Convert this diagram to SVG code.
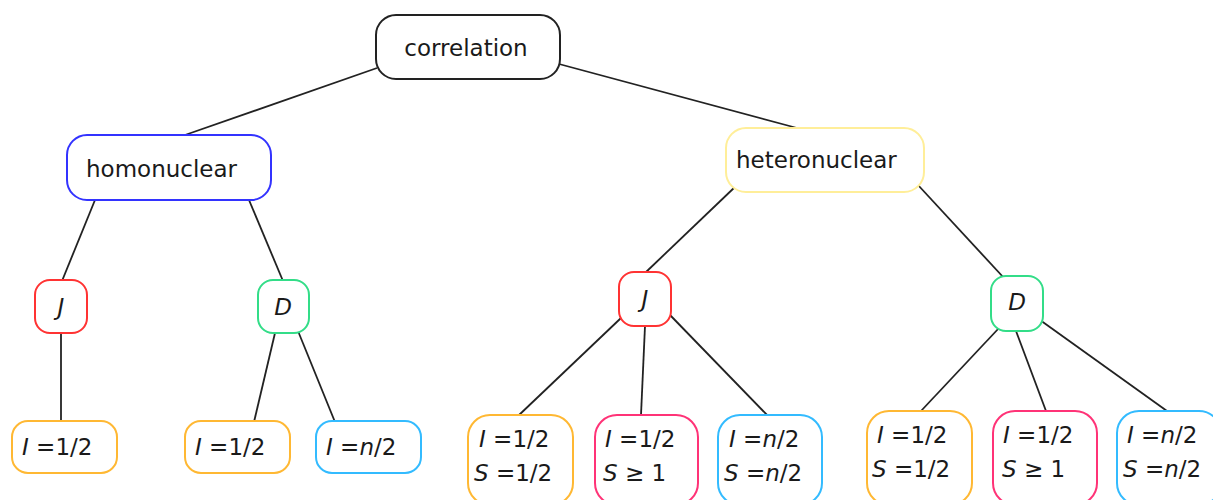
<svg xmlns="http://www.w3.org/2000/svg" width="1213" height="500" viewBox="0 0 1213 500">
<style>
.box{fill:#fff;stroke-width:2}
.t{font-family:"DejaVu Sans",sans-serif;font-size:23px;fill:#1a1a1a}
.i{font-style:italic}
.c{stroke:#222;stroke-width:1.8;fill:none}
</style>
<rect width="1213" height="500" fill="#fff"/>
<g id="connectors">
<line class="c" x1="377" y1="68" x2="185" y2="135"/>
<line class="c" x1="559" y1="64" x2="797" y2="128"/>
<line class="c" x1="95" y1="200" x2="62" y2="281"/>
<line class="c" x1="249" y1="200" x2="283" y2="281"/>
<line class="c" x1="61" y1="333" x2="61" y2="421"/>
<line class="c" x1="275" y1="333" x2="254" y2="422"/>
<line class="c" x1="298" y1="331" x2="335" y2="422"/>
<line class="c" x1="736" y1="186" x2="645" y2="273"/>
<line class="c" x1="918" y1="185" x2="1004" y2="278"/>
<line class="c" x1="621" y1="318" x2="518" y2="416"/>
<line class="c" x1="645" y1="326" x2="641" y2="415"/>
<line class="c" x1="670" y1="315" x2="768" y2="416"/>
<line class="c" x1="999" y1="328" x2="921" y2="411"/>
<line class="c" x1="1016" y1="331" x2="1046" y2="411"/>
<line class="c" x1="1040" y1="320" x2="1167" y2="411"/>
</g>
<g id="correlation">
<rect class="box" x="376" y="15" width="184" height="64" rx="20" stroke="#222"/>
<text class="t" x="466" y="56" text-anchor="middle">correlation</text>
</g>
<g id="homonuclear">
<rect class="box" x="67" y="135" width="204" height="65" rx="20" stroke="#3333ff"/>
<text class="t" x="86" y="177">homonuclear</text>
</g>
<g id="heteronuclear">
<rect class="box" x="726" y="128" width="198" height="64" rx="20" stroke="#ffee99"/>
<text class="t" x="736" y="168">heteronuclear</text>
</g>
<g id="J1">
<rect class="box" x="35" y="280" width="52" height="53" rx="15" stroke="#ff3333"/>
<text class="t i" x="61" y="315" text-anchor="middle">J</text>
</g>
<g id="D1">
<rect class="box" x="258" y="280" width="51" height="53" rx="15" stroke="#33dd88"/>
<text class="t i" x="283" y="315" text-anchor="middle">D</text>
</g>
<g id="J1a">
<rect class="box" x="12" y="421" width="105" height="52" rx="16" stroke="#ffb833"/>
<text class="t" x="22" y="455"><tspan class="i">I</tspan> =1/2</text>
</g>
<g id="D1a">
<rect class="box" x="185" y="421" width="105" height="52" rx="16" stroke="#ffb833"/>
<text class="t" x="195" y="455"><tspan class="i">I</tspan> =1/2</text>
</g>
<g id="D1b">
<rect class="box" x="316" y="421" width="105" height="52" rx="16" stroke="#33bbff"/>
<text class="t" x="326" y="455"><tspan class="i">I</tspan> =<tspan class="i">n</tspan>/2</text>
</g>
<g id="J2">
<rect class="box" x="619" y="272" width="52" height="54" rx="15" stroke="#ff3333"/>
<text class="t i" x="645" y="307" text-anchor="middle">J</text>
</g>
<g id="D2">
<rect class="box" x="991" y="276" width="52" height="55" rx="15" stroke="#33dd88"/>
<text class="t i" x="1017" y="310" text-anchor="middle">D</text>
</g>
<g id="J2a">
<rect class="box" x="468" y="415" width="105" height="90" rx="22" stroke="#ffb833"/>
<text class="t" x="479" y="447"><tspan class="i">I</tspan> =1/2</text>
<text class="t" x="474" y="481"><tspan class="i">S</tspan> =1/2</text>
</g>
<g id="J2b">
<rect class="box" x="595" y="415" width="103" height="90" rx="22" stroke="#ff3377"/>
<text class="t" x="605" y="447"><tspan class="i">I</tspan> =1/2</text>
<text class="t" x="603" y="481"><tspan class="i">S</tspan> ≥ 1</text>
</g>
<g id="J2c">
<rect class="box" x="718" y="415" width="104" height="90" rx="22" stroke="#33bbff"/>
<text class="t" x="729" y="447"><tspan class="i">I</tspan> =<tspan class="i">n</tspan>/2</text>
<text class="t" x="724" y="481"><tspan class="i">S</tspan> =<tspan class="i">n</tspan>/2</text>
</g>
<g id="D2a">
<rect class="box" x="867" y="411" width="105" height="94" rx="22" stroke="#ffb833"/>
<text class="t" x="877" y="443"><tspan class="i">I</tspan> =1/2</text>
<text class="t" x="872" y="477"><tspan class="i">S</tspan> =1/2</text>
</g>
<g id="D2b">
<rect class="box" x="993" y="411" width="104" height="94" rx="22" stroke="#ff3377"/>
<text class="t" x="1003" y="443"><tspan class="i">I</tspan> =1/2</text>
<text class="t" x="1002" y="477"><tspan class="i">S</tspan> ≥ 1</text>
</g>
<g id="D2c">
<rect class="box" x="1117" y="411" width="104" height="94" rx="22" stroke="#33bbff"/>
<text class="t" x="1127" y="443"><tspan class="i">I</tspan> =<tspan class="i">n</tspan>/2</text>
<text class="t" x="1123" y="477"><tspan class="i">S</tspan> =<tspan class="i">n</tspan>/2</text>
</g>
</svg>
